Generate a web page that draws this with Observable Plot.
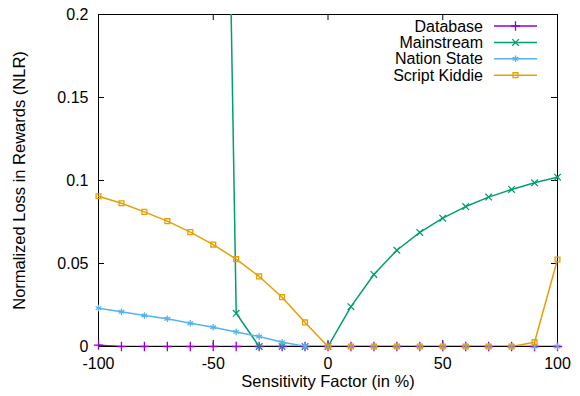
<!DOCTYPE html>
<html>
<head>
<meta charset="utf-8">
<script src="https://cdn.jsdelivr.net/npm/d3@7"></script>
<script src="https://cdn.jsdelivr.net/npm/@observablehq/plot@0.6"></script>
<style>
  html, body { margin: 0; padding: 0; background: #fff; }
  #wrap { position: relative; width: 580px; height: 396px; }
  #wrap svg { position: absolute; left: 0; top: 0; }
</style>
</head>
<body>
<div id="wrap"></div>
<script>
// ---- data ----
const seriesNames = ["Database", "Mainstream", "Nation State", "Script Kiddie"];
const seriesColors = ["#9400d3", "#009e73", "#56b4e9", "#e69f00"];
const seriesSymbols = ["plus", "times", "asterisk", "square2"];

const xDatabase = [-100, -90, -80, -70, -60, -50, -40, -30, -20, -10, 0, 10, 20, 30, 40, 50, 60, 70, 80, 90, 100];
const yDatabase = [0.0008, 0, 0, 0, 0, 0, 0, 0, 0, 0, 0, 0, 0, 0, 0, 0, 0, 0, 0, 0, 0];

const xMainstream = [-50, -40, -30, -20, -10, 0, 10, 20, 30, 40, 50, 60, 70, 80, 90, 100];
const yMainstream = [0.84, 0.020, 0, 0, 0, 0, 0.024, 0.0434, 0.058, 0.0687, 0.0773, 0.0843, 0.090, 0.0946, 0.0986, 0.102];

const xNation = [-100, -90, -80, -70, -60, -50, -40, -30, -20, -10, 0, 10, 20, 30, 40, 50, 60, 70, 80, 90, 100];
const yNation = [0.0231, 0.0209, 0.0187, 0.0167, 0.0140, 0.0116, 0.0088, 0.0060, 0.0026, 0.0002, 0, 0, 0, 0, 0, 0, 0, 0, 0, 0, 0];

const xScript = [-100, -90, -80, -70, -60, -50, -40, -30, -20, -10, 0, 10, 20, 30, 40, 50, 60, 70, 80, 90, 100];
const yScript = [0.0905, 0.0863, 0.0811, 0.0755, 0.0689, 0.0614, 0.0526, 0.0422, 0.0297, 0.0145, 0, 0, 0, 0, 0, 0, 0, 0, 0, 0.0026, 0.0524];

const xTicks = [-100, -50, 0, 50, 100];
const yTicks = [0, 0.05, 0.1, 0.15, 0.2];
const xLabel = "Sensitivity Factor (in %)";
const yLabel = "Normalized Loss in Rewards (NLR)";

// ---- build ----
const W = 580, H = 396;
const mL = 98, mR = 23, mT = 14, mB = 50;
const plotW = W - mL - mR, plotH = H - mT - mB;
const FONT = "Liberation Sans, Arial, Helvetica, sans-serif";
const FS = 16;

const xsAll = [xDatabase, xMainstream, xNation, xScript];
const ysAll = [yDatabase, yMainstream, yNation, yScript];
const tables = xsAll.map((xs, i) => xs.map((x, j) => ({x, y: ysAll[i][j], s: seriesNames[i]})));

const marks = [
  Plot.frame({stroke: "black", strokeWidth: 1}),
  Plot.ruleX(xTicks, {insetTop: plotH - 6, stroke: "black"}),
  Plot.ruleX(xTicks, {insetBottom: plotH - 6, stroke: "black"}),
  Plot.ruleY(yTicks, {insetRight: plotW - 6, stroke: "black"}),
  Plot.ruleY(yTicks, {insetLeft: plotW - 6, stroke: "black"}),
  Plot.axisX(xTicks, {tickSize: 0, tickPadding: 11, fontSize: FS, tickFormat: d => String(d), label: null}),
  Plot.axisY(yTicks, {tickSize: 0, tickPadding: 10, fontSize: FS, tickFormat: d => String(d), label: null}),
  Plot.text([xLabel], {frameAnchor: "bottom", textAnchor: "middle", dy: 40, text: d => d, fontSize: 16.5}),
  Plot.text([yLabel], {frameAnchor: "left", textAnchor: "middle", dx: -79, rotate: -90, text: d => d, fontSize: 16.5})
];
tables.forEach((t, i) => {
  marks.push(Plot.line(t, {x: "x", y: "y", stroke: seriesColors[i], strokeWidth: 1.5, clip: true}));
  marks.push(Plot.dot(t.filter(d => d.y <= 0.2), {x: "x", y: "y", symbol: () => seriesSymbols[i], stroke: seriesColors[i], fill: "none", strokeWidth: 1.3, r: 3.1}));
});

const chart = Plot.plot({
  width: W, height: H,
  marginLeft: mL, marginRight: mR, marginTop: mT, marginBottom: mB,
  style: {fontFamily: FONT, fontSize: FS + "px", background: "white", color: "black"},
  x: {domain: [-100, 100], axis: null},
  y: {domain: [0, 0.2], axis: null},
  symbol: {domain: seriesSymbols, range: seriesSymbols},
  marks
});
const wrap = document.getElementById("wrap");
wrap.appendChild(chart);

// ---- legend overlay ----
const leg = d3.select(wrap).append("svg").attr("width", W).attr("height", H)
  .style("font-family", FONT).style("font-size", FS + "px");
const symMap = {plus: d3.symbolPlus, times: d3.symbolTimes, asterisk: d3.symbolAsterisk, square2: d3.symbolSquare2};
seriesNames.forEach((name, i) => {
  const cy = 26 + i * 16.4;
  leg.append("text").attr("x", 483).attr("y", cy).attr("dy", "0.35em")
    .attr("text-anchor", "end").attr("fill", "black").text(name);
  leg.append("line").attr("x1", 494).attr("x2", 537).attr("y1", cy).attr("y2", cy)
    .attr("stroke", seriesColors[i]).attr("stroke-width", 1.5);
  leg.append("path").attr("transform", `translate(515.5,${cy})`)
    .attr("d", d3.symbol(symMap[seriesSymbols[i]], Math.PI * 3.1 * 3.1)())
    .attr("fill", "none").attr("stroke", seriesColors[i]).attr("stroke-width", 1.3);
});
</script>
</body>
</html>
